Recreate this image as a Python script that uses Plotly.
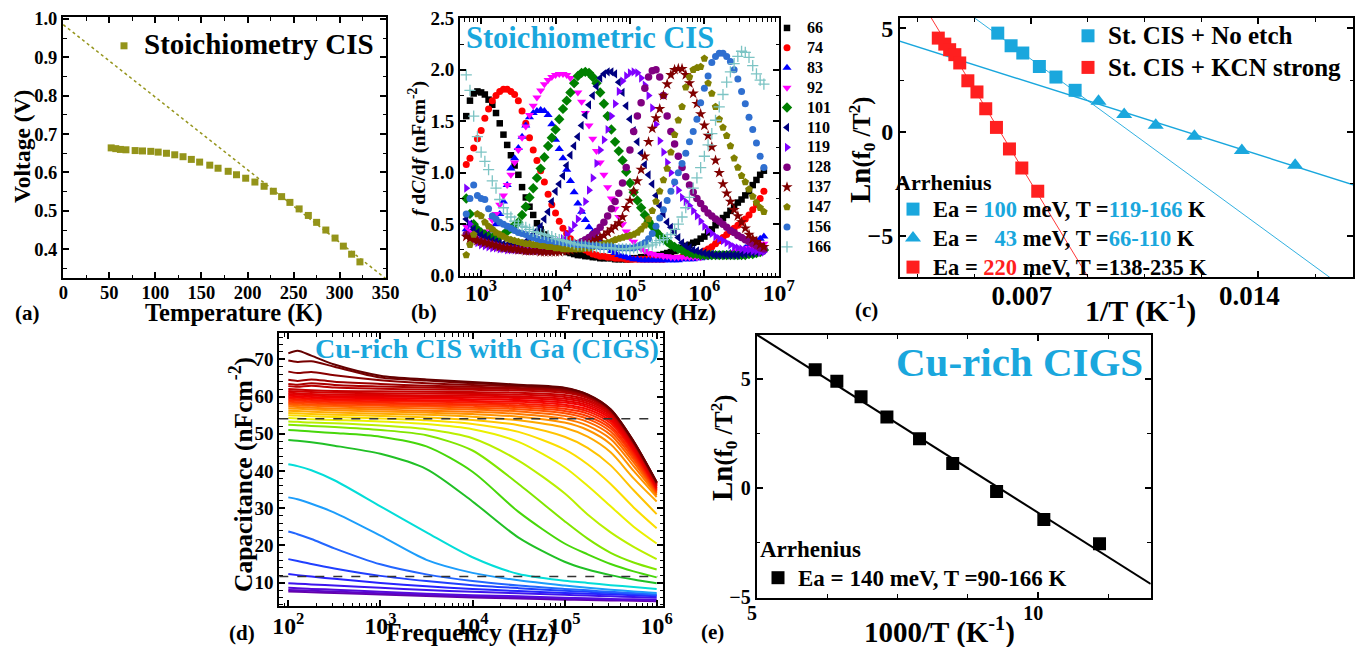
import plotly.graph_objects as go
from plotly.colors import sample_colorscale

W, H = 1355, 647
FONT = "Liberation Serif"
CYAN = "#1aa7dd"
RED = "#ff1f1f"
OLIVE = "#94941a"

# ---------------- (a) Voc vs T ----------------
A_TEMP = [52, 57, 62, 68, 78, 86, 95, 103, 112, 121, 130, 139, 148, 159, 168, 179,
          188, 198, 208, 218, 228, 237, 246, 256, 266, 275, 285, 295, 304, 313, 322]
A_VOLT = [0.664, 0.662, 0.660, 0.659, 0.657, 0.656, 0.655, 0.653, 0.650, 0.646, 0.641,
          0.634, 0.627, 0.619, 0.611, 0.603, 0.594, 0.585, 0.575, 0.564, 0.551, 0.537,
          0.522, 0.505, 0.488, 0.470, 0.450, 0.429, 0.408, 0.387, 0.367]
A_FIT_TEMP = [0, 350]
A_FIT_VOLT = [0.985, 0.3235]

# ---------------- (b) f dC/df spectra (log10 f grid) ----------------
B_LOGF = [2.80, 2.85, 2.90, 2.95, 3.00, 3.05, 3.10, 3.15, 3.20, 3.25,
          3.30, 3.35, 3.40, 3.45, 3.50, 3.55, 3.60, 3.65, 3.70, 3.75,
          3.80, 3.85, 3.90, 3.95, 4.00, 4.05, 4.10, 4.15, 4.20, 4.25,
          4.30, 4.35, 4.40, 4.45, 4.50, 4.55, 4.60, 4.65, 4.70, 4.75,
          4.80, 4.85, 4.90, 4.95, 5.00, 5.05, 5.10, 5.15, 5.20, 5.25,
          5.30, 5.35, 5.40, 5.45, 5.50, 5.55, 5.60, 5.65, 5.70, 5.75,
          5.80, 5.85, 5.90, 5.95, 6.00, 6.05, 6.10, 6.15, 6.20, 6.25,
          6.30, 6.35, 6.40, 6.45, 6.50, 6.55, 6.60, 6.65, 6.70, 6.75,
          6.80]
B_TEMPS = ["66", "74", "83", "92", "101", "110", "119", "128", "137", "147", "156", "166"]
B_66 = [1.55, 1.70, 1.77, 1.79, 1.78, 1.76, 1.71, 1.66, 1.58, 1.48,
        1.37, 1.27, 1.17, 1.07, 0.98, 0.86, 0.76, 0.67, 0.59, 0.51,
        0.45, 0.40, 0.35, 0.32, 0.29, 0.27, 0.25, 0.23, 0.22, 0.21,
        0.20, 0.20, 0.19, 0.19, 0.18, 0.18, 0.17, 0.17, 0.17, 0.17,
        0.16, 0.16, 0.16, 0.16, 0.16, 0.17, 0.17, 0.18, 0.18, 0.19,
        0.19, 0.20, 0.20, 0.21, 0.22, 0.23, 0.24, 0.26, 0.27, 0.29,
        0.30, 0.32, 0.33, 0.36, 0.38, 0.42, 0.45, 0.49, 0.52, 0.56,
        0.59, 0.63, 0.67, 0.71, 0.74, 0.78, 0.82, 0.88, 0.93, 0.98,
        1.02]
B_74 = [1.08, 1.14, 1.24, 1.33, 1.41, 1.53, 1.62, 1.70, 1.75, 1.79,
        1.81, 1.81, 1.79, 1.76, 1.70, 1.60, 1.48, 1.34, 1.22, 1.12,
        1.02, 0.91, 0.79, 0.69, 0.61, 0.53, 0.46, 0.41, 0.36, 0.32,
        0.29, 0.27, 0.25, 0.23, 0.21, 0.20, 0.19, 0.19, 0.18, 0.18,
        0.17, 0.17, 0.17, 0.16, 0.16, 0.16, 0.16, 0.16, 0.16, 0.16,
        0.16, 0.16, 0.16, 0.16, 0.17, 0.17, 0.17, 0.17, 0.18, 0.18,
        0.19, 0.19, 0.20, 0.22, 0.24, 0.26, 0.28, 0.31, 0.34, 0.37,
        0.40, 0.43, 0.46, 0.49, 0.52, 0.55, 0.59, 0.64, 0.69, 0.75,
        0.82]
B_83 = [0.45, 0.42, 0.40, 0.39, 0.38, 0.39, 0.40, 0.44, 0.50, 0.60,
        0.72, 0.88, 1.04, 1.14, 1.24, 1.35, 1.46, 1.54, 1.58, 1.60,
        1.61, 1.60, 1.56, 1.47, 1.32, 1.23, 1.14, 1.03, 0.92, 0.81,
        0.70, 0.62, 0.54, 0.47, 0.42, 0.37, 0.33, 0.30, 0.27, 0.24,
        0.22, 0.20, 0.19, 0.18, 0.17, 0.16, 0.16, 0.15, 0.15, 0.15,
        0.15, 0.15, 0.15, 0.15, 0.15, 0.15, 0.15, 0.15, 0.16, 0.16,
        0.16, 0.16, 0.17, 0.17, 0.18, 0.18, 0.19, 0.19, 0.20, 0.20,
        0.21, 0.22, 0.23, 0.24, 0.25, 0.27, 0.29, 0.31, 0.34, 0.36,
        0.38]
B_92 = [0.48, 0.44, 0.40, 0.39, 0.40, 0.43, 0.48, 0.54, 0.60, 0.69,
        0.78, 0.88, 0.98, 1.10, 1.22, 1.34, 1.45, 1.56, 1.65, 1.73,
        1.80, 1.86, 1.90, 1.93, 1.95, 1.96, 1.96, 1.95, 1.92, 1.86,
        1.78, 1.69, 1.58, 1.46, 1.33, 1.21, 1.10, 0.98, 0.86, 0.75,
        0.65, 0.57, 0.50, 0.43, 0.37, 0.33, 0.29, 0.26, 0.24, 0.22,
        0.21, 0.20, 0.20, 0.19, 0.19, 0.18, 0.18, 0.18, 0.18, 0.18,
        0.18, 0.18, 0.18, 0.18, 0.19, 0.19, 0.20, 0.20, 0.21, 0.21,
        0.22, 0.22, 0.23, 0.24, 0.25, 0.26, 0.27, 0.28, 0.29, 0.30,
        0.31]
B_101 = [0.75, 0.60, 0.50, 0.45, 0.42, 0.40, 0.38, 0.37, 0.36, 0.38,
         0.40, 0.43, 0.46, 0.49, 0.52, 0.59, 0.67, 0.76, 0.85, 0.95,
         1.04, 1.15, 1.26, 1.34, 1.42, 1.52, 1.62, 1.70, 1.78, 1.87,
         1.94, 1.97, 1.98, 1.97, 1.93, 1.87, 1.78, 1.67, 1.55, 1.42,
         1.30, 1.21, 1.12, 1.01, 0.90, 0.81, 0.73, 0.66, 0.59, 0.53,
         0.48, 0.43, 0.39, 0.36, 0.33, 0.30, 0.28, 0.26, 0.25, 0.23,
         0.22, 0.21, 0.21, 0.20, 0.20, 0.20, 0.20, 0.20, 0.20, 0.20,
         0.20, 0.20, 0.20, 0.20, 0.20, 0.20, 0.21, 0.21, 0.22, 0.23,
         0.25]
B_110 = [0.55, 0.50, 0.45, 0.42, 0.40, 0.38, 0.36, 0.34, 0.33, 0.32,
         0.31, 0.30, 0.30, 0.30, 0.30, 0.31, 0.33, 0.36, 0.40, 0.44,
         0.48, 0.55, 0.62, 0.72, 0.82, 0.89, 0.97, 1.07, 1.17, 1.26,
         1.35, 1.46, 1.56, 1.66, 1.75, 1.84, 1.92, 1.96, 1.98, 1.98,
         1.96, 1.88, 1.78, 1.65, 1.52, 1.41, 1.30, 1.19, 1.08, 0.98,
         0.89, 0.78, 0.68, 0.60, 0.52, 0.47, 0.42, 0.37, 0.32, 0.29,
         0.27, 0.25, 0.24, 0.23, 0.22, 0.21, 0.21, 0.20, 0.20, 0.20,
         0.20, 0.20, 0.20, 0.20, 0.21, 0.21, 0.22, 0.22, 0.23, 0.24,
         0.25]
B_119 = [0.85, 0.50, 0.35, 0.32, 0.30, 0.29, 0.28, 0.27, 0.27, 0.26,
         0.26, 0.25, 0.25, 0.25, 0.25, 0.25, 0.25, 0.25, 0.25, 0.25,
         0.26, 0.27, 0.28, 0.29, 0.31, 0.33, 0.36, 0.40, 0.44, 0.49,
         0.55, 0.63, 0.72, 0.83, 0.95, 1.09, 1.22, 1.32, 1.42, 1.55,
         1.67, 1.79, 1.89, 1.94, 1.97, 1.98, 1.97, 1.92, 1.85, 1.75,
         1.63, 1.47, 1.31, 1.20, 1.10, 1.00, 0.90, 0.83, 0.76, 0.72,
         0.68, 0.63, 0.58, 0.53, 0.48, 0.44, 0.41, 0.38, 0.36, 0.34,
         0.32, 0.30, 0.28, 0.27, 0.26, 0.25, 0.25, 0.24, 0.24, 0.23,
         0.23]
B_128 = [0.40, 0.38, 0.36, 0.34, 0.33, 0.32, 0.31, 0.30, 0.29, 0.28,
         0.27, 0.27, 0.26, 0.26, 0.25, 0.25, 0.24, 0.24, 0.24, 0.24,
         0.24, 0.24, 0.24, 0.24, 0.25, 0.25, 0.26, 0.27, 0.28, 0.29,
         0.31, 0.33, 0.35, 0.37, 0.40, 0.43, 0.47, 0.52, 0.58, 0.65,
         0.72, 0.80, 0.90, 1.05, 1.22, 1.40, 1.55, 1.68, 1.82, 1.93,
         1.99, 2.00, 1.93, 1.75, 1.55, 1.40, 1.28, 1.16, 1.05, 0.96,
         0.88, 0.81, 0.75, 0.70, 0.65, 0.61, 0.58, 0.55, 0.53, 0.50,
         0.47, 0.44, 0.42, 0.39, 0.37, 0.35, 0.33, 0.31, 0.29, 0.27,
         0.26]
B_137 = [0.38, 0.36, 0.35, 0.34, 0.33, 0.32, 0.31, 0.30, 0.29, 0.28,
         0.27, 0.27, 0.26, 0.26, 0.25, 0.25, 0.24, 0.24, 0.24, 0.24,
         0.23, 0.23, 0.23, 0.23, 0.23, 0.23, 0.24, 0.24, 0.25, 0.26,
         0.27, 0.28, 0.30, 0.31, 0.33, 0.35, 0.37, 0.39, 0.42, 0.45,
         0.48, 0.51, 0.57, 0.66, 0.73, 0.82, 0.92, 1.03, 1.16, 1.30,
         1.43, 1.53, 1.62, 1.75, 1.86, 1.95, 2.00, 2.01, 2.01, 1.95,
         1.87, 1.77, 1.67, 1.57, 1.46, 1.36, 1.25, 1.12, 1.00, 0.89,
         0.80, 0.72, 0.64, 0.58, 0.52, 0.46, 0.40, 0.36, 0.33, 0.30,
         0.28]
B_147 = [0.20, 0.30, 0.40, 0.60, 0.58, 0.52, 0.48, 0.45, 0.42, 0.40,
         0.38, 0.36, 0.35, 0.34, 0.33, 0.32, 0.31, 0.31, 0.30, 0.30,
         0.29, 0.29, 0.28, 0.28, 0.27, 0.27, 0.26, 0.26, 0.26, 0.26,
         0.26, 0.26, 0.27, 0.27, 0.28, 0.29, 0.30, 0.31, 0.32, 0.33,
         0.35, 0.36, 0.37, 0.38, 0.39, 0.40, 0.42, 0.45, 0.49, 0.55,
         0.63, 0.72, 0.82, 0.93, 1.04, 1.20, 1.37, 1.51, 1.64, 1.83,
         1.93, 2.00, 2.02, 2.03, 2.11, 1.87, 1.77, 1.64, 1.52, 1.44,
         1.36, 1.26, 1.14, 1.05, 0.97, 0.91, 0.84, 0.77, 0.71, 0.66,
         0.62]
B_156 = [0.60, 0.75, 0.88, 0.78, 0.75, 0.74, 0.65, 0.58, 0.55, 0.52,
         0.50, 0.48, 0.46, 0.44, 0.42, 0.41, 0.40, 0.38, 0.37, 0.36,
         0.35, 0.35, 0.34, 0.34, 0.33, 0.33, 0.32, 0.32, 0.31, 0.31,
         0.30, 0.30, 0.30, 0.29, 0.29, 0.29, 0.28, 0.28, 0.28, 0.28,
         0.27, 0.27, 0.27, 0.27, 0.27, 0.27, 0.28, 0.30, 0.32, 0.36,
         0.41, 0.48, 0.56, 0.64, 0.73, 0.82, 0.91, 1.00, 1.09, 1.19,
         1.30, 1.40, 1.52, 1.68, 1.82, 1.94, 2.07, 2.13, 2.16, 2.16,
         2.13, 2.08, 2.00, 1.91, 1.79, 1.67, 1.54, 1.42, 1.29, 1.16,
         1.05]
B_166 = [1.95, 1.80, 1.55, 1.35, 1.20, 1.11, 1.03, 0.92, 0.85, 0.74,
         0.66, 0.60, 0.57, 0.53, 0.50, 0.48, 0.47, 0.45, 0.43, 0.42,
         0.41, 0.40, 0.39, 0.38, 0.36, 0.35, 0.34, 0.33, 0.32, 0.31,
         0.30, 0.30, 0.29, 0.29, 0.28, 0.28, 0.27, 0.27, 0.27, 0.27,
         0.26, 0.26, 0.26, 0.26, 0.26, 0.27, 0.27, 0.28, 0.28, 0.29,
         0.30, 0.32, 0.34, 0.35, 0.37, 0.40, 0.45, 0.50, 0.57, 0.66,
         0.76, 0.85, 0.95, 1.05, 1.16, 1.27, 1.38, 1.51, 1.64, 1.76,
         1.88, 1.98, 2.06, 2.13, 2.18, 2.17, 2.12, 2.04, 1.96, 1.90,
         1.86]
B_SERIES = [B_66, B_74, B_83, B_92, B_101, B_110, B_119, B_128, B_137, B_147, B_156, B_166]

# ---------------- (c) Arrhenius, stoichiometric CIS ----------------
C_NOETCH_X = [0.00598, 0.00639, 0.00675, 0.00726, 0.00777, 0.00836]
C_NOETCH_Y = [4.77, 4.16, 3.81, 3.16, 2.65, 2.01]
C_LOWT_X = [0.00908, 0.00987, 0.01084, 0.01203, 0.01349, 0.01513]
C_LOWT_Y = [1.48, 0.84, 0.32, -0.21, -0.90, -1.61]
C_KCN_X = [0.00415, 0.00435, 0.00450, 0.00466, 0.00481, 0.00506, 0.00534, 0.00561,
           0.00594, 0.00634, 0.00672, 0.00721]
C_KCN_Y = [4.53, 4.24, 3.97, 3.73, 3.33, 2.47, 1.93, 1.12, 0.22, -0.82, -1.74, -2.86]
C_FIT100_X = [0.0045, 0.0172]
C_FIT100_Y = [6.38, -8.17]
C_FIT43_X = [0.0029, 0.0172]
C_FIT43_Y = [4.41, -2.69]
C_FIT220_X = [0.0037, 0.0095]
C_FIT220_Y = [6.11, -8.93]

# ---------------- (d) C-f of Cu-rich CIGS ----------------
D_LOGF = [2.0, 2.1, 2.25, 2.5, 3.0, 3.5, 4.0, 4.5, 5.0, 5.25, 5.5, 5.75, 6.0]
D_C01 = [7.6, 7.5, 7.4, 7.2, 6.8, 6.4, 6.0, 5.7, 5.4, 5.3, 5.2, 5.1, 5.0]
D_C02 = [8.0, 7.9, 7.8, 7.6, 7.1, 6.7, 6.3, 6.0, 5.7, 5.6, 5.4, 5.3, 5.2]
D_C03 = [8.6, 8.5, 8.3, 8.1, 7.5, 7.0, 6.6, 6.3, 5.9, 5.8, 5.6, 5.5, 5.4]
D_C04 = [9.8, 9.7, 9.5, 9.2, 8.6, 8.0, 7.5, 7.1, 6.7, 6.5, 6.3, 6.1, 5.9]
D_C05 = [12.3, 12.0, 11.6, 11.0, 9.9, 9.0, 8.3, 7.7, 7.2, 7.0, 6.8, 6.6, 6.3]
D_C06 = [16.3, 15.8, 15.0, 13.8, 11.8, 10.4, 9.3, 8.5, 7.8, 7.5, 7.2, 6.9, 6.6]
D_C07 = [23.7, 23.0, 21.7, 19.2, 14.9, 12.2, 10.4, 9.2, 8.3, 7.9, 7.5, 7.2, 6.8]
D_C08 = [32.9, 32.4, 31.2, 28.8, 22.6, 16.1, 12.6, 10.6, 9.2, 8.6, 8.1, 7.6, 7.2]
D_C09 = [41.8, 41.3, 40.2, 37.5, 30.5, 23.5, 16.8, 12.3, 10.5, 9.9, 9.3, 8.8, 8.3]
D_C10 = [48.3, 48.1, 47.7, 46.8, 44.6, 40.5, 31.8, 22.1, 15.6, 13.5, 12.0, 10.8, 9.8]
D_C11 = [51.0, 50.9, 50.6, 50.2, 49.2, 46.6, 39.8, 29.0, 20.5, 17.6, 15.0, 13.0, 11.4]
D_C12 = [52.4, 52.3, 52.1, 51.8, 51.0, 49.6, 45.5, 36.5, 26.5, 21.8, 18.0, 15.4, 13.5]
D_C13 = [53.3, 53.2, 53.0, 52.8, 52.2, 51.2, 48.8, 42.8, 34.0, 28.3, 23.5, 19.6, 16.3]
D_C14 = [54.2, 54.1, 53.9, 53.7, 53.3, 52.6, 51.2, 47.8, 41.0, 36.0, 30.5, 25.0, 20.5]
D_C15 = [55.0, 54.9, 54.7, 54.5, 54.1, 53.6, 52.6, 50.5, 45.8, 41.8, 36.5, 30.2, 24.6]
D_C16 = [55.6, 55.5, 55.3, 55.1, 54.8, 54.4, 53.7, 52.3, 49.2, 46.2, 41.5, 34.8, 28.4]
D_C17 = [56.2, 56.1, 55.9, 55.7, 55.4, 55.1, 54.6, 53.6, 51.6, 49.2, 45.0, 38.0, 31.8]
D_C18 = [56.8, 56.7, 56.5, 56.3, 56.0, 55.7, 55.3, 54.6, 53.0, 51.0, 47.2, 40.0, 33.0]
D_C19 = [57.3, 57.2, 57.0, 56.8, 56.5, 56.2, 55.9, 55.3, 54.0, 52.2, 48.6, 41.3, 33.5]
D_C20 = [57.8, 57.7, 57.5, 57.3, 57.0, 56.8, 56.5, 56.0, 54.8, 53.2, 49.7, 42.3, 33.9]
D_C21 = [58.2, 58.1, 57.9, 57.7, 57.5, 57.3, 57.0, 56.6, 55.5, 54.0, 50.6, 43.1, 34.2]
D_C22 = [58.6, 58.5, 58.3, 58.1, 57.9, 57.7, 57.5, 57.1, 56.1, 54.7, 51.4, 43.8, 34.5]
D_C23 = [59.0, 58.9, 58.7, 58.5, 58.3, 58.1, 57.9, 57.6, 56.7, 55.4, 52.1, 44.4, 34.8]
D_C24 = [59.4, 59.3, 59.1, 58.9, 58.7, 58.6, 58.4, 58.1, 57.3, 56.0, 52.8, 45.0, 35.0]
D_C25 = [59.8, 59.7, 59.5, 59.3, 59.1, 59.0, 58.8, 58.6, 57.8, 56.6, 53.4, 45.5, 35.3]
D_C26 = [60.2, 60.1, 59.9, 59.7, 59.6, 59.5, 59.3, 59.1, 58.4, 57.2, 54.0, 46.0, 35.5]
D_C27 = [60.6, 60.5, 60.3, 60.1, 60.0, 59.9, 59.8, 59.6, 58.9, 57.7, 54.5, 46.4, 35.8]
D_C28 = [61.0, 60.9, 60.7, 60.5, 60.4, 60.3, 60.2, 60.0, 59.4, 58.2, 55.0, 46.8, 36.0]
D_C29 = [61.5, 61.4, 61.2, 61.0, 60.9, 60.8, 60.7, 60.5, 59.9, 58.7, 55.4, 47.1, 36.2]
D_C30 = [62.0, 61.9, 61.7, 61.5, 61.4, 61.3, 61.2, 61.0, 60.4, 59.1, 55.7, 47.3, 36.4]
D_C31 = [62.8, 62.6, 62.9, 62.4, 62.1, 61.9, 61.8, 61.6, 61.0, 59.6, 56.0, 47.5, 36.6]
D_C32 = [63.4, 63.2, 63.6, 63.1, 62.7, 62.4, 62.2, 62.0, 61.4, 59.9, 56.2, 47.6, 36.7]
D_C33 = [64.5, 64.2, 64.6, 64.0, 63.4, 62.9, 62.6, 62.3, 61.7, 60.1, 56.3, 47.7, 36.8]
D_C34 = [66.7, 66.3, 66.6, 65.7, 64.4, 63.6, 63.1, 62.7, 62.0, 60.3, 56.4, 47.8, 36.9]
D_C35 = [69.7, 69.3, 69.5, 68.0, 65.1, 64.3, 63.6, 63.0, 62.2, 60.5, 56.5, 47.9, 37.0]
D_C36 = [71.6, 72.3, 71.0, 68.6, 65.6, 64.6, 63.9, 63.2, 62.4, 60.6, 56.6, 48.0, 37.0]
D_SERIES = [D_C01, D_C02, D_C03, D_C04, D_C05, D_C06, D_C07, D_C08, D_C09, D_C10, D_C11, D_C12,
            D_C13, D_C14, D_C15, D_C16, D_C17, D_C18, D_C19, D_C20, D_C21, D_C22, D_C23, D_C24,
            D_C25, D_C26, D_C27, D_C28, D_C29, D_C30, D_C31, D_C32, D_C33, D_C34, D_C35, D_C36]
D_DASH_LEVELS = [54.0, 11.6]

# ---------------- (e) Arrhenius, Cu-rich CIGS ----------------
E_X = [6.035, 6.42, 6.85, 7.31, 7.89, 8.48, 9.26, 10.1, 11.09]
E_Y = [5.43, 4.90, 4.19, 3.26, 2.27, 1.14, -0.15, -1.43, -2.54]
E_FIT_X = [5.0, 12.0]
E_FIT_Y = [7.03, -4.38]

# ====================================================================
fig = go.Figure()

# (a)
fig.add_trace(go.Scatter(x=A_FIT_TEMP, y=A_FIT_VOLT, mode="lines",
                         line=dict(color=OLIVE, width=1.5, dash="dot"),
                         showlegend=False, xaxis="x", yaxis="y", hoverinfo="skip"))
fig.add_trace(go.Scatter(x=A_TEMP, y=A_VOLT, mode="markers",
                         marker=dict(symbol="square", size=7, color=OLIVE),
                         name="<span style='font-size:29px'>Stoichiometry CIS</span>",
                         legend="legend", xaxis="x", yaxis="y"))

# (b)
B_STYLE = [("square", "#000000", 6.5), ("circle", "#ff0000", 7), ("triangle-up", "#0000ff", 8),
           ("triangle-down", "#ff00ff", 8), ("diamond", "#008000", 8), ("triangle-left", "#000080", 8),
           ("triangle-right", "#8000ff", 8), ("circle", "#800080", 7.5), ("star", "#800000", 8.5),
           ("pentagon", "#808000", 8), ("circle", "#2f6fd0", 7), ("cross-thin", "#7cc4c4", 8)]
b_freq = [10 ** v for v in B_LOGF]
for name, vals, (sym, col, sz) in zip(B_TEMPS, B_SERIES, B_STYLE):
    mk = dict(symbol=sym, size=sz, color=col)
    if sym == "cross-thin":
        mk["line"] = dict(color=col, width=1.3)
    fig.add_trace(go.Scatter(x=b_freq, y=vals, mode="markers", marker=mk,
                             name="<span style='font-size:16px'>%s</span>" % name,
                             legend="legend2", xaxis="x2", yaxis="y2"))

# (c)
fig.add_trace(go.Scatter(x=C_FIT100_X, y=C_FIT100_Y, mode="lines", line=dict(color=CYAN, width=0.9),
                         showlegend=False, xaxis="x3", yaxis="y3"))
fig.add_trace(go.Scatter(x=C_FIT43_X, y=C_FIT43_Y, mode="lines", line=dict(color=CYAN, width=1.4),
                         showlegend=False, xaxis="x3", yaxis="y3"))
fig.add_trace(go.Scatter(x=C_FIT220_X, y=C_FIT220_Y, mode="lines", line=dict(color=RED, width=0.9),
                         showlegend=False, xaxis="x3", yaxis="y3"))
LEG_C = "<span style='font-size:22.5px'>%s</span>"
fig.add_trace(go.Scatter(x=C_NOETCH_X, y=C_NOETCH_Y, mode="markers",
                         marker=dict(symbol="square", size=13, color=CYAN),
                         name=LEG_C % ("Ea = <span style='color:%s'>100</span> meV, T =<span style='color:%s'>119-166</span> K" % (CYAN, CYAN)),
                         legend="legend4", xaxis="x3", yaxis="y3"))
fig.add_trace(go.Scatter(x=C_LOWT_X, y=C_LOWT_Y, mode="markers",
                         marker=dict(symbol="triangle-up", size=14, color=CYAN),
                         name=LEG_C % ("Ea =\u00a0\u00a0\u00a0<span style='color:%s'>43</span> meV, T =<span style='color:%s'>66-110</span> K" % (CYAN, CYAN)),
                         legend="legend4", xaxis="x3", yaxis="y3"))
fig.add_trace(go.Scatter(x=C_KCN_X, y=C_KCN_Y, mode="markers",
                         marker=dict(symbol="square", size=13, color=RED),
                         name=LEG_C % ("Ea = <span style='color:%s'>220</span> meV, T =138-235 K" % RED),
                         legend="legend4", xaxis="x3", yaxis="y3"))
# sample legend (same marker styles)
LEG_S = "<span style='font-size:25px'>%s</span>"
fig.add_trace(go.Scatter(x=[None], y=[None], mode="markers", marker=dict(symbol="square", size=13, color=CYAN),
                         name=LEG_S % "St. CIS + No etch", legend="legend3", xaxis="x3", yaxis="y3"))
fig.add_trace(go.Scatter(x=[None], y=[None], mode="markers", marker=dict(symbol="square", size=13, color=RED),
                         name=LEG_S % "St. CIS + KCN strong", legend="legend3", xaxis="x3", yaxis="y3"))

# (d)
D_SCALE = [[0.00, "rgb(100,0,170)"], [0.06, "rgb(85,10,220)"], [0.11, "rgb(40,30,255)"],
           [0.15, "rgb(30,70,255)"], [0.19, "rgb(40,130,255)"], [0.225, "rgb(0,225,240)"],
           [0.255, "rgb(30,190,40)"], [0.285, "rgb(70,215,10)"], [0.315, "rgb(130,230,0)"],
           [0.345, "rgb(190,240,0)"], [0.375, "rgb(240,240,0)"], [0.41, "rgb(255,215,0)"],
           [0.45, "rgb(255,175,0)"], [0.52, "rgb(255,120,0)"], [0.60, "rgb(255,60,0)"],
           [0.70, "rgb(245,0,0)"], [0.80, "rgb(210,0,0)"], [0.90, "rgb(165,0,0)"],
           [1.00, "rgb(100,0,0)"]]
n_d = len(D_SERIES)
d_colors = sample_colorscale(D_SCALE, [i / (n_d - 1) for i in range(n_d)])
d_freq = [10 ** v for v in D_LOGF]
for vals, col in zip(D_SERIES, d_colors):
    fig.add_trace(go.Scatter(x=d_freq, y=vals, mode="lines",
                             line=dict(color=col, width=2, shape="spline", smoothing=0.8),
                             showlegend=False, xaxis="x4", yaxis="y4", hoverinfo="skip"))

# (e)
fig.add_trace(go.Scatter(x=E_FIT_X, y=E_FIT_Y, mode="lines", line=dict(color="black", width=2),
                         showlegend=False, xaxis="x5", yaxis="y5"))
fig.add_trace(go.Scatter(x=E_X, y=E_Y, mode="markers", marker=dict(symbol="square", size=13, color="black"),
                         name="<span style='font-size:23px'>Ea = 140 meV, T =90-166 K</span>",
                         legend="legend5", xaxis="x5", yaxis="y5"))


# ---------------- layout ----------------
def px_x(p):
    return p / W


def px_y(p):
    return 1 - p / H


def axis(domain, anchor, fsize=17, minor=None, **kw):
    d = dict(domain=domain, anchor=anchor, showline=True, linecolor="black", linewidth=2,
             mirror="ticks", ticks="inside", ticklen=6, tickwidth=1.5, tickcolor="black",
             showgrid=False, zeroline=False, automargin=False,
             tickfont=dict(family=FONT, size=fsize, color="black", weight="bold"))
    m = dict(ticks="inside", ticklen=3.5, tickwidth=1.2, tickcolor="black", showgrid=False)
    if minor:
        m.update(minor)
    d["minor"] = m
    d.update(kw)
    return d


def legend_box(px, py, size, title=None, tsize=None):
    d = dict(x=px_x(px), y=px_y(py), xanchor="left", yanchor="top", bgcolor="rgba(0,0,0,0)",
             borderwidth=0, itemsizing="trace", tracegroupgap=0,
             font=dict(family=FONT, size=size, color="black", weight="bold"))
    if title:
        d["title"] = dict(text=title, font=dict(family=FONT, size=tsize, color="black", weight="bold"))
    return d


layout = dict(
    width=W, height=H, margin=dict(l=0, r=0, t=0, b=0, autoexpand=False),
    paper_bgcolor="white", plot_bgcolor="white",
    font=dict(family=FONT, size=17, color="black", weight="bold"),
    showlegend=True,
    xaxis=axis([px_x(63), px_x(386)], "y", 18.5, dict(dtick=25),
               range=[-0.3, 350.3], dtick=50, tick0=0, ticklabelstandoff=-3),
    yaxis=axis([px_y(278), px_y(17)], "x", 18.5, dict(dtick=0.05),
               range=[0.325, 1.005], dtick=0.1, tick0=0, tickformat=".1f"),
    xaxis2=axis([px_x(460), px_x(779)], "y2", 19, dict(dtick="D1"),
                type="log", range=[2.716, 7.003], dtick=1, exponentformat="power",
                ticklabelstandoff=-5),
    yaxis2=axis([px_y(276), px_y(18)], "x2", 19, dict(dtick=0.25),
                range=[-0.003, 2.503], dtick=0.5, tick0=0, tickformat=".1f"),
    xaxis3=axis([px_x(900), px_x(1353)], "y3", 27, dict(dtick=0.00175, tick0=0),
                range=[0.002972, 0.01691], dtick=0.007, tick0=0, tickformat=".3f",
                ticklabelshift=-9, ticklabelstandoff=-6),
    yaxis3=axis([px_y(277), px_y(18)], "x3", 24, dict(dtick=2.5, tick0=0),
                range=[-7.0, 5.5], dtick=5, tick0=0),
    xaxis4=axis([px_x(279.3), px_x(663.3)], "y4", 19, dict(dtick="D1"),
                type="log", range=[1.902, 6.072], dtick=1, exponentformat="power",
                ticklabelstandoff=-2),
    yaxis4=axis([px_y(606), px_y(333.3)], "x4", 19, dict(dtick=2, tick0=0),
                range=[3.7, 77], dtick=10, tick0=0),
    xaxis5=axis([px_x(756.7), px_x(1150.7)], "y5", 20, dict(dtick=1.25, tick0=0),
                range=[4.995, 12.0], dtick=5, tick0=0, ticklabelshift=-5, ticklabelstandoff=-4),
    yaxis5=axis([px_y(597.7), px_y(335)], "x5", 20, dict(dtick=2.5, tick0=0),
                range=[-5.01, 7.02], dtick=5, tick0=0),
    legend=legend_box(104, 25, 22),
    legend2=legend_box(767, 13, 13),
    legend3=legend_box(1068, 15, 22),
    legend4=legend_box(893, 161, 20, "Arrhenius", 22),
    legend5=legend_box(758, 527, 22, "Arrhenius", 23),
)
fig.update_layout(**layout)

# dashed reference levels in (d)
for lvl, xend in zip(D_DASH_LEVELS, [0.975, 0.985]):
    fig.add_shape(type="line", xref="x4 domain", yref="y4", x0=0, x1=xend, y0=lvl, y1=lvl,
                  line=dict(color="#333333", width=1.5, dash="dash"))


def note(text, px, py, size, color="black", angle=0, xanchor="center"):
    fig.add_annotation(text=text, x=px_x(px), y=px_y(py), xref="paper", yref="paper",
                       showarrow=False, textangle=angle, xanchor=xanchor, yanchor="middle",
                       font=dict(family=FONT, size=size, color=color, weight="bold"))


LN_TITLE = "<span style='font-size:29px'>Ln</span>(f<sub>0</sub> /T<sup>2</sup>)"

# (a)
note("Voltage (V)", 22, 147, 23.5, angle=-90)
note("Temperature (K)", 234, 313, 24.5)
note("(a)", 27, 313, 21)
# (b)
note("<i>f</i> d<i>C</i>/d<i>f</i> (nFcm<sup>-2</sup>)", 417, 149, 19.5, angle=-90)
note("Frequency (Hz)", 636, 312, 24)
note("(b)", 424, 312, 21)
note("Stoichiometric CIS", 464, 38, 30.5, color=CYAN, xanchor="left")
# (c)
note(LN_TITLE, 862, 150, 24.5, angle=-90)
note("1/T (K<sup>-1</sup>)", 1140, 308, 30)
note("(c)", 866, 310, 21)
# (d)
note("Capacitance (nFcm<sup>-2</sup>)", 241, 475, 25.5, angle=-90)
note("Frequency (Hz)", 471, 632, 25.5)
note("(d)", 242, 633, 21)
note("Cu-rich CIS with Ga (CIGS)", 487, 348, 28, color=CYAN)
# (e)
note(LN_TITLE, 723, 448, 24.5, angle=-90)
note("1000/T (K<sup>-1</sup>)", 939, 630, 29)
note("(e)", 712, 632, 21)
note("Cu-rich CIGS", 1019, 362, 41, color=CYAN)

# the page's default 8px body margin would offset the fixed-size figure
fig.write_html("out.html", config={"displayModeBar": False},
               post_script="document.body.style.margin='0px';")
